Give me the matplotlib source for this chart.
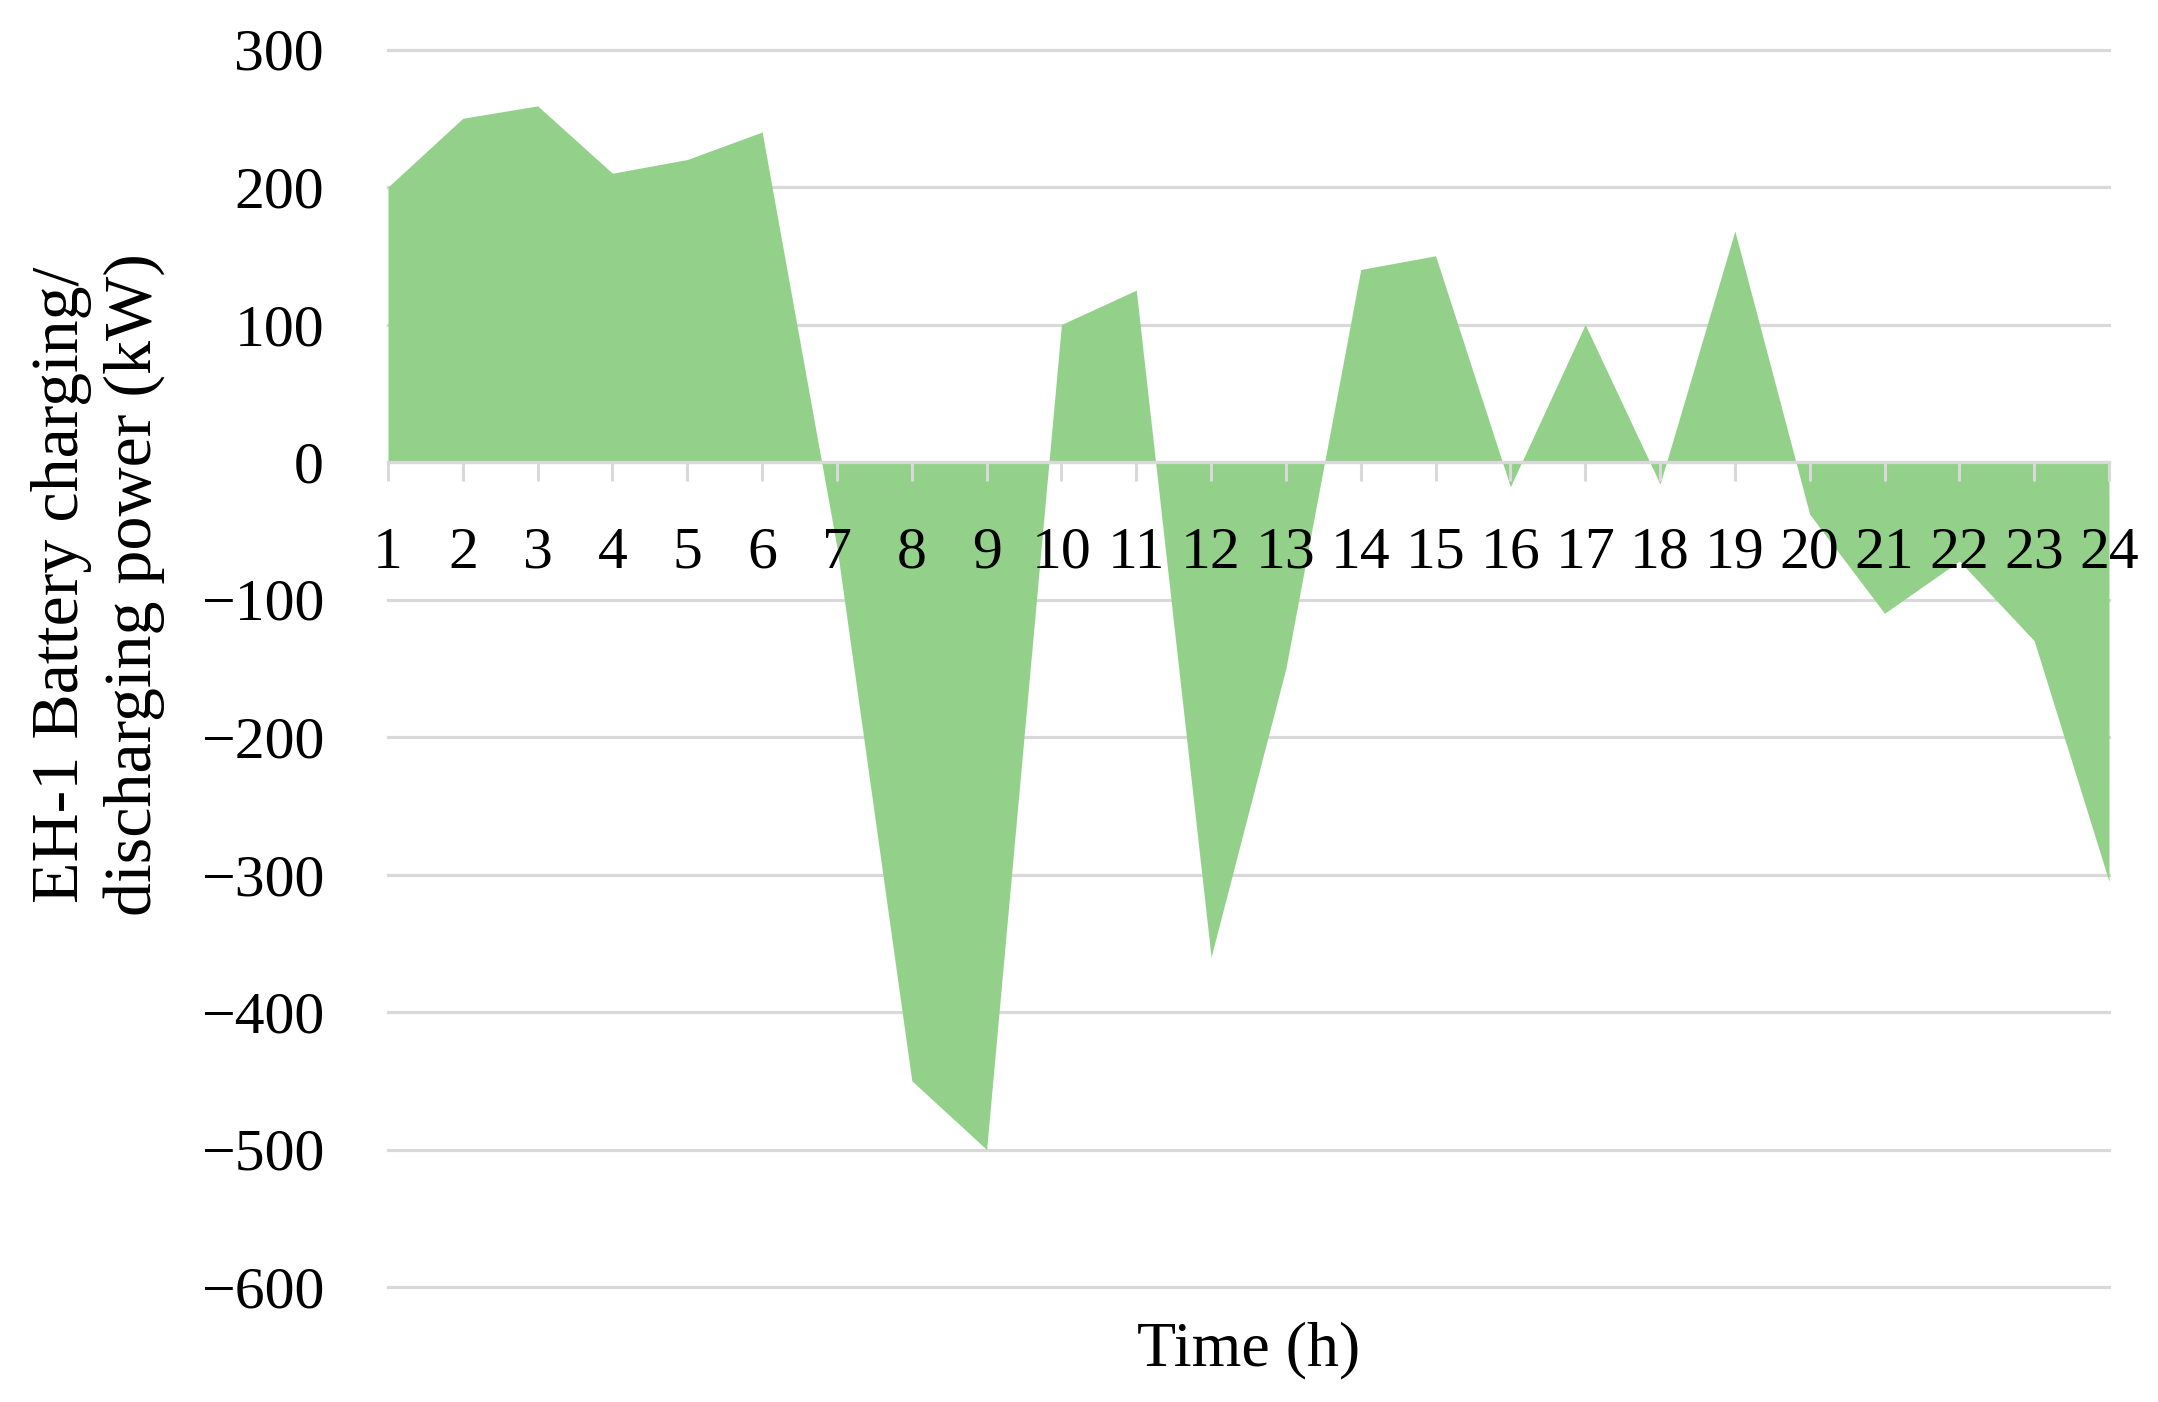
import matplotlib
matplotlib.use("Agg")
import matplotlib.pyplot as plt

hours = list(range(1, 25))
power_kw = [200, 250, 259, 210, 220, 240, -62, -450, -500, 100, 125, -360,
            -150, 140, 150, -18, 100, -16, 168, -38, -110, -72, -130, -305]
y_ticks = [300, 200, 100, 0, -100, -200, -300, -400, -500, -600]
x_label = "Time (h)"
y_label = "EH-1 Battery charging/\ndischarging power (kW)"

plt.rcParams['font.family'] = ['Liberation Serif', 'DejaVu Serif']

W, H = 2158, 1402
fig = plt.figure(figsize=(W / 100, H / 100), dpi=100)
ax = fig.add_axes([388 / W, 1 - 1287 / H, (2109 - 388) / W, (1287 - 49.5) / H])

grid_c = '#d9d9d9'
# horizontal gridlines below the area
for yv in y_ticks:
    ax.axhline(yv, color=grid_c, linewidth=2.3, zorder=0.5, clip_on=False)

ax.fill_between(hours, power_kw, 0, color='#93d18b', linewidth=0, zorder=1)

ax.set_xlim(1, 24)
ax.set_ylim(-600, 300)
ax.set_yticks(y_ticks)
ax.set_yticklabels([("\u2212" + str(-v)) if v < 0 else str(v) for v in y_ticks])
ax.set_xticks(hours)
ax.set_xticklabels([str(h) for h in hours])
ax.set_axisbelow(False)

for s in ['top', 'right', 'left']:
    ax.spines[s].set_visible(False)
ax.spines['bottom'].set_position(('data', 0))
ax.spines['bottom'].set_color(grid_c)
ax.spines['bottom'].set_linewidth(2.3)
ax.spines['bottom'].set_zorder(3)

ax.tick_params(axis='y', length=0, pad=46, labelsize=43, colors='black')
ax.tick_params(axis='x', direction='out', length=14, width=2.2, color=grid_c,
               pad=52, labelsize=43, labelcolor='black')
for lbl in ax.get_xticklabels():
    lbl.set_verticalalignment('center')

ax.set_xlabel(x_label, fontsize=46, va='center')
ax.xaxis.set_label_coords(0.5, (1287 - 1350) / (1287 - 49.5))
ax.set_ylabel(y_label, fontsize=49, va='center', ha='center', linespacing=1.25)
ax.yaxis.set_label_coords((98 - 388) / (2109 - 388), (1287 - 585) / (1287 - 49.5))

fig.savefig("out.png", dpi=100, facecolor='white')
